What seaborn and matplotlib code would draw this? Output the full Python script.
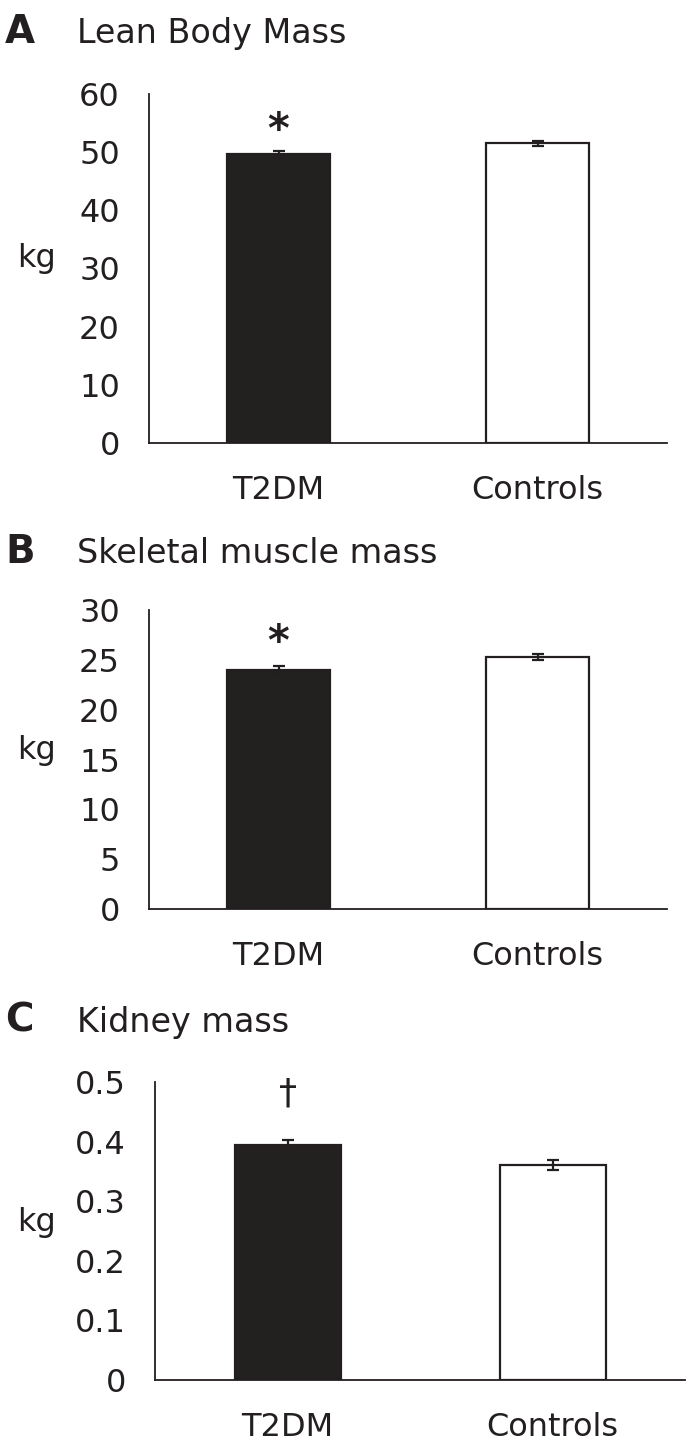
import matplotlib
matplotlib.use('Agg')
import matplotlib.pyplot as plt
import seaborn as sns
import pandas as pd

# values
groups = ['T2DM', 'Controls']
lean_mass = [49.6, 51.5]
lean_err = [0.6, 0.4]
muscle_mass = [24.0, 25.3]
muscle_err = [0.35, 0.3]
kidney_mass = [0.395, 0.361]
kidney_err = [0.008, 0.008]

# letter, title, values, errors, y ticks, tick labels, marker, marker height
panels = [
    ('A', 'Lean Body Mass', lean_mass, lean_err, [0, 10, 20, 30, 40, 50, 60],
     ['0', '10', '20', '30', '40', '50', '60'], '*', 53.6),
    ('B', 'Skeletal muscle mass', muscle_mass, muscle_err, [0, 5, 10, 15, 20, 25, 30],
     ['0', '5', '10', '15', '20', '25', '30'], '*', 26.7),
    ('C', 'Kidney mass', kidney_mass, kidney_err, [0, 0.1, 0.2, 0.3, 0.4, 0.5],
     ['0', '0.1', '0.2', '0.3', '0.4', '0.5'], '\u2020', 0.48),
]

sns.set_style('white')
plt.rcParams['font.family'] = ['DejaVu Sans']
ink = '#231f20'
fs = 23

W, H = 687, 1450
fig = plt.figure(figsize=(W / 100, H / 100), dpi=100)

# axes boxes in pixels: left, right, top, bottom
boxes = [(149, 667, 94, 443), (149, 667, 610, 909), (155, 685, 1082, 1380)]
title_y = [43, 563, 1032]

for (letter, title, vals, errs, yt, ytl, mark, mark_y), (l, r, t, b), ty in zip(panels, boxes, title_y):
    ax = fig.add_axes([l / W, 1 - b / H, (r - l) / W, (b - t) / H])
    df = pd.DataFrame({'group': groups, 'value': vals})
    sns.barplot(data=df, x='group', y='value', hue='group', palette=[ink, 'white'],
                edgecolor=ink, linewidth=1.6, width=0.4, errorbar=None, legend=False, ax=ax)
    ax.errorbar([0, 1], vals, yerr=errs, fmt='none', ecolor=ink, elinewidth=1.6,
                capsize=4, capthick=1.6)
    ax.set_xlim(-0.5, 1.5)
    ax.set_ylim(yt[0], yt[-1])
    ax.set_yticks(yt)
    ax.set_yticklabels(ytl, fontsize=fs)
    ax.set_xticks([-0.5, 0.5, 1.5])
    ax.set_xticklabels([])
    ax.set_xticks([0, 1], minor=True)
    ax.set_xticklabels(groups, minor=True, fontsize=fs)
    ax.tick_params(axis='x', which='minor', length=0, pad=23, colors=ink)
    ax.tick_params(axis='x', which='major', length=9, width=1.3, direction='out', color=ink)
    ax.tick_params(axis='y', length=9, width=1.3, direction='out', color=ink, pad=12, labelcolor=ink)
    ax.set_xlabel('')
    ax.set_ylabel('kg', rotation=0, fontsize=fs, color=ink, ha='center', va='center')
    ax.yaxis.set_label_coords((36 - l) / (r - l), 0.53)
    for s in ['top', 'right']:
        ax.spines[s].set_visible(False)
    for s in ['left', 'bottom']:
        ax.spines[s].set_linewidth(1.3)
        ax.spines[s].set_color(ink)
    # significance marker above the T2DM bar
    if mark == '*':
        ax.text(0, mark_y, mark, ha='center', va='center', fontsize=30, fontweight='bold', color=ink)
    else:
        ax.text(0, mark_y, mark, ha='center', va='center', fontsize=26, color=ink)
    fig.text(5 / W, 1 - ty / H, letter, fontsize=28, fontweight='bold', color=ink, va='baseline')
    fig.text(77 / W, 1 - ty / H, title, fontsize=24, color=ink, va='baseline')

fig.savefig('out.png', dpi=100)
